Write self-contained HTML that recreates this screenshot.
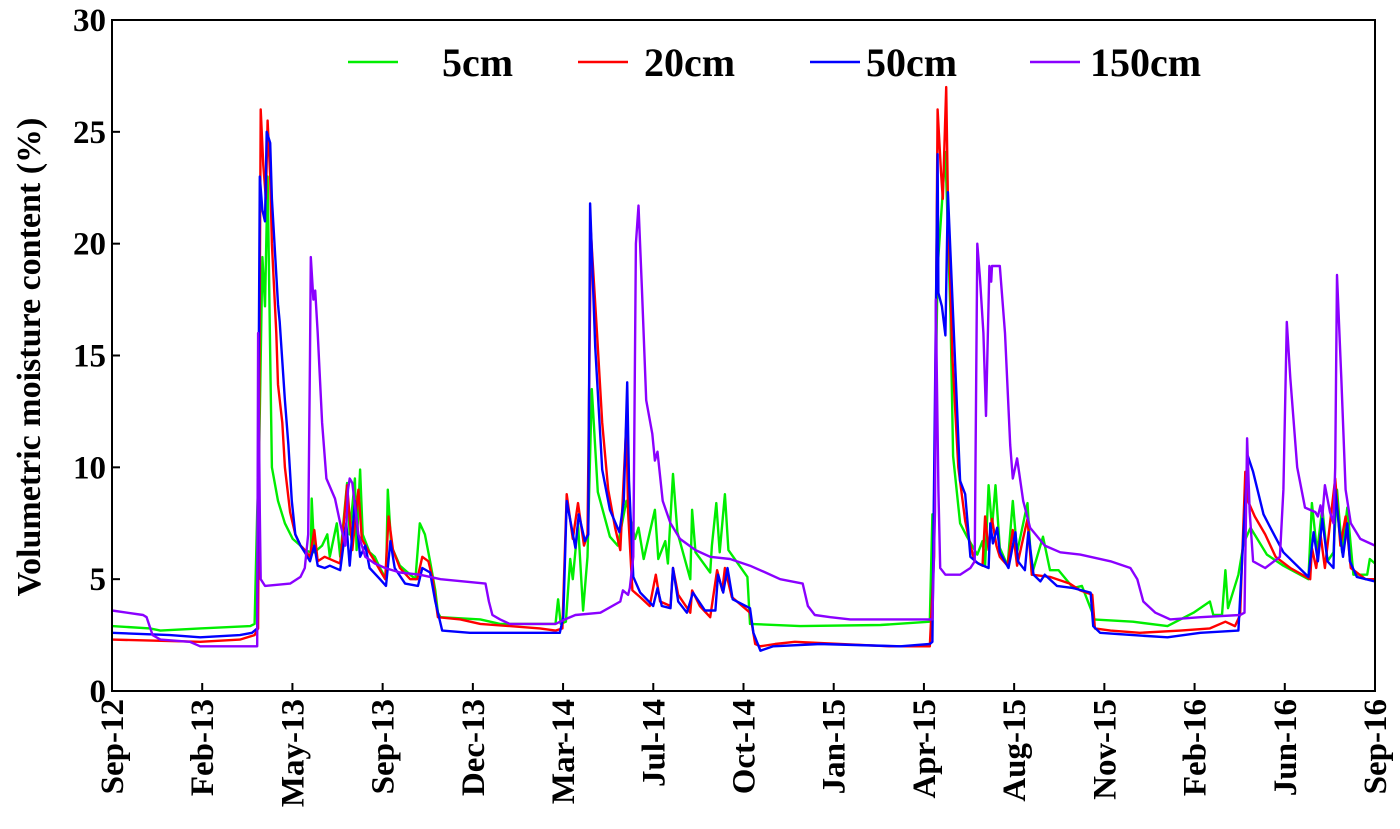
<!DOCTYPE html>
<html><head><meta charset="utf-8"><style>
html,body{margin:0;padding:0;background:#fff;}
svg{display:block;font-family:"Liberation Serif",serif;font-weight:bold;}
</style></head><body>
<svg id="chart" width="1400" height="829">
<g id="plot"></g>
<g id="axes"></g>
<g id="legend"></g>
<text transform="translate(40,357) rotate(-90)" text-anchor="middle" font-size="34">Volumetric moisture content (%)</text>
</svg>
<script>
const xTickLabels=["Sep-12","Feb-13","May-13","Sep-13","Dec-13","Mar-14","Jul-14","Oct-14","Jan-15","Apr-15","Aug-15","Nov-15","Feb-16","Jun-16","Sep-16"];
const yTicks=[0,5,10,15,20,25,30];
const seriesNames=["5cm","20cm","50cm","150cm"];
const seriesColors=["#00ee00","#ff0000","#0000ff","#8a00ff"];
const totalDays=1461;
const d5=[0,44,56,102,160,165,168,170,174,177,180,183,185,192,200,209,218,223,230,231,234,243,249,252,260,264,272,275,281,283,287,290,298,304,310,317,319,323,333,345,351,356,362,368,374,377,380,426,449,513,516,519,525,530,533,539,545,550,555,562,576,585,595,605,609,615,628,632,640,643,649,654,669,671,675,692,694,699,703,709,713,735,738,796,889,946,949,950,955,964,970,973,981,989,1001,1007,1010,1014,1018,1022,1027,1036,1042,1047,1059,1064,1077,1085,1095,1112,1122,1134,1135,1181,1221,1251,1270,1274,1284,1288,1291,1303,1309,1317,1336,1355,1384,1388,1394,1400,1406,1413,1417,1423,1429,1436,1452,1455,1461];
const v5=[2.9,2.8,2.7,2.8,2.9,3.0,8.0,10.3,19.4,17.2,23,15,10,8.5,7.5,6.8,6.5,6.3,6.2,8.6,6.2,6.5,7,6,7.5,6,9.3,7,9.5,6.3,9.9,7,6.2,6,5.5,5.0,9.0,6.5,5.6,5.2,5.0,7.5,7,5.8,4.5,3.5,3.3,3.2,3.0,3.0,4.1,3.0,3.1,5.9,5.0,7.5,3.6,6,13.5,8.9,6.9,6.5,8.5,6.8,7.3,5.9,8.1,5.9,6.7,5.7,9.7,7.1,5.0,8.1,6.2,5.3,6.5,8.4,6.2,8.8,6.3,5.1,3.0,2.9,2.95,3.1,7.9,6.2,18.9,24.1,16.8,10.5,7.5,6.9,6.1,6.7,5.6,9.2,7.3,9.2,6.4,5.6,8.5,6.2,8.4,5.2,6.9,5.4,5.4,4.6,4.7,3.5,3.2,3.1,2.9,3.5,4.0,3.4,3.4,5.4,3.7,5.2,6.6,7.3,6.1,5.6,5.0,8.4,6.2,8.2,5.8,6.2,9.0,6.2,8.2,5.2,5.2,5.9,5.7];
const d20=[0,102,148,165,169,172,175,178,180,183,185,190,192,197,200,206,212,218,223,229,234,238,246,258,264,272,278,285,289,296,304,316,320,325,333,345,353,359,366,371,377,403,426,460,495,513,521,526,533,539,546,550,554,561,567,574,582,588,595,597,602,611,622,629,634,646,649,655,669,671,680,692,700,706,709,717,732,738,744,750,767,790,900,946,951,955,959,961,965,967,972,979,987,993,998,1007,1010,1014,1018,1023,1027,1036,1042,1047,1059,1064,1085,1108,1120,1134,1137,1155,1189,1236,1270,1288,1299,1305,1311,1314,1322,1334,1346,1363,1386,1388,1393,1398,1403,1415,1421,1427,1433,1450,1461];
const v20=[2.3,2.2,2.3,2.5,2.8,26,23.5,22,25.5,23,20,16,13.7,12,10,8,7,6.5,6.3,6,7.2,5.8,6,5.8,5.7,9.2,6.3,9.0,6.8,6.3,5.8,5.0,7.8,6.3,5.5,5.0,5.0,6.0,5.8,5.0,3.3,3.2,3.0,2.9,2.8,2.7,2.8,8.8,6.8,8.4,6.5,7,20.5,16,12,9,7.3,6.3,12,8,4.5,4.2,3.8,5.2,4.0,3.8,5.5,4.3,3.5,4.5,3.8,3.3,5.4,4.5,5.5,4.2,3.7,3.5,2.1,2.0,2.1,2.2,2.0,2.0,6,26,23.2,22,27,22,15,10,7.6,6.5,5.8,5.6,7.8,6.3,7.7,6.5,6.0,5.6,7.2,5.6,7.7,5.2,5.1,4.8,4.5,4.3,2.8,2.7,2.6,2.7,2.8,3.1,2.9,3.4,9.8,8.5,7.8,7,6,5.5,5.0,6.4,5.5,7.0,5.5,9.5,6.5,7.8,5.5,5.0,5.0];
const d50=[0,67,102,148,162,168,171,174,177,179,183,185,192,194,200,204,208,212,218,223,229,234,238,246,252,264,271,275,281,287,293,298,310,317,322,327,339,354,359,368,374,382,414,518,522,526,536,540,547,551,553,559,567,576,587,592,596,598,603,611,626,631,636,646,649,655,665,672,686,698,701,707,712,718,738,742,750,765,819,912,946,949,950,955,956,960,964,967,973,981,987,993,1002,1014,1016,1019,1024,1027,1037,1045,1048,1056,1060,1066,1074,1079,1093,1112,1132,1135,1143,1181,1221,1259,1303,1309,1314,1320,1332,1340,1355,1384,1390,1395,1400,1406,1413,1415,1420,1424,1429,1432,1440,1461];
const v50=[2.6,2.5,2.4,2.5,2.6,2.8,23,21.5,21,25,24.5,22,17.3,16.5,13,11,8.5,7,6.5,6.2,5.8,6.5,5.6,5.5,5.6,5.4,7.5,5.6,8.5,6,6.5,5.5,5.0,4.7,6.7,5.5,4.8,4.7,5.5,5.3,4.0,2.7,2.6,2.6,3.3,8.5,6.4,7.9,6.7,7,21.8,15.4,9.9,8.1,7.1,8.5,13.8,9.4,5.1,4.4,3.8,4.6,3.8,3.7,5.5,4.0,3.5,4.4,3.6,3.6,5.2,4.4,5.5,4.1,3.7,2.6,1.8,2.0,2.1,2.0,2.1,2.2,6.2,24.0,17.8,17.2,15.9,22.3,16.8,9.4,8.8,6.0,5.7,5.5,7.5,6.6,7.3,6.2,5.5,7.1,5.8,5.4,7.1,5.2,4.9,5.2,4.7,4.6,4.4,2.9,2.6,2.5,2.4,2.6,2.7,7.1,10.5,9.8,7.9,7.3,6.2,5.1,7.1,5.8,7.7,5.8,5.5,9.0,7.1,6.0,7.5,5.8,5.1,4.9];
const d150=[0,36,40,47,56,90,102,168,169,171,172,177,206,218,223,227,229,230,233,235,238,243,248,258,264,270,273,275,278,285,293,304,316,333,356,380,432,436,440,449,460,513,524,536,565,588,591,597,599,603,606,609,613,618,625,628,631,637,646,657,675,692,715,738,756,773,799,805,813,831,854,949,952,953,956,958,964,981,993,998,1001,1004,1008,1011,1015,1017,1018,1027,1033,1039,1042,1047,1054,1062,1079,1097,1120,1155,1178,1186,1193,1207,1224,1259,1305,1310,1313,1316,1320,1334,1351,1355,1359,1363,1371,1380,1392,1395,1398,1400,1403,1409,1413,1415,1417,1422,1427,1433,1444,1461];
const v150=[3.6,3.4,3.3,2.5,2.3,2.2,2.0,2.0,16,8,5,4.7,4.8,5.1,5.5,7,15,19.4,17.5,17.9,16,12,9.5,8.6,7.5,6.5,9,9.5,9.3,7,6,5.7,5.5,5.3,5.2,5.0,4.8,4.0,3.4,3.2,3.0,3.0,3.2,3.4,3.5,4.0,4.5,4.3,4.6,6,20,21.7,18,13,11.5,10.3,10.7,8.5,7.5,6.8,6.3,6.0,5.9,5.6,5.3,5.0,4.8,3.8,3.4,3.3,3.2,3.2,8,17.5,9,5.5,5.2,5.2,5.5,5.8,20,18.5,16,12.3,19,18.3,19,19,16,11,9.5,10.4,8.5,7.3,6.5,6.2,6.1,5.8,5.5,5.0,4.0,3.5,3.2,3.3,3.4,3.5,11.3,8,5.8,5.5,6,9,16.5,14,10,8.2,8,7.8,8.3,7.8,9.2,8,7.5,10,18.6,14,9,7.5,6.8,6.5];

const X0=112,X1=1375,Y0=691,Y1=20;
const xScale=d=>X0+(X1-X0)*d/totalDays;
const yScale=v=>Y0-(Y0-Y1)*v/30;
const NS="http://www.w3.org/2000/svg";
const mk=(t,p,a)=>{const e=document.createElementNS(NS,t);for(const k in a)e.setAttribute(k,a[k]);p.appendChild(e);return e;};
const plot=document.getElementById('plot'),axes=document.getElementById('axes'),legend=document.getElementById('legend');
const allD=[d5,d20,d50,d150],allV=[v5,v20,v50,v150];
allD.forEach((ds,i)=>{
  const pts=ds.map((d,j)=>xScale(d).toFixed(1)+","+yScale(allV[i][j]).toFixed(1)).join(" ");
  const pl=mk('polyline',plot,{points:pts,fill:'none',stroke:seriesColors[i],'stroke-width':2.4,'stroke-linejoin':'round'});
  
  
});
const frame=mk('rect',axes,{x:X0,y:Y1,width:X1-X0,height:Y0-Y1,fill:'none',stroke:'#000','stroke-width':2});


yTicks.forEach(v=>{
  const y=yScale(v);
  const t=mk('line',axes,{x1:X0,x2:X0+8,y1:y,y2:y,stroke:'#000','stroke-width':2});
  
  
  const l=mk('text',axes,{x:X0-6,y:y+11,'text-anchor':'end','font-size':33});
  l.textContent=v;
  
  
});
xTickLabels.forEach((lab,i)=>{
  const x=X0+(X1-X0)*i/(xTickLabels.length-1);
  const t=mk('line',axes,{x1:x,x2:x,y1:Y0,y2:Y0-8,stroke:'#000','stroke-width':2});
  
  
  const l=mk('text',axes,{transform:`translate(${x+11},${Y0+8}) rotate(-90)`,'text-anchor':'end','font-size':33});
  l.textContent=lab;
  
  
});
const legX=[348,578,810,1030],legTX=[442,644,866,1090];
seriesNames.forEach((n,i)=>{
  const ln=mk('line',legend,{x1:legX[i],x2:legX[i]+50,y1:62,y2:62,stroke:seriesColors[i],'stroke-width':2.4});
  
  
  const t=mk('text',legend,{x:legTX[i],y:76,'font-size':40});
  t.textContent=n;
  
  
});
</script>
</body></html>
